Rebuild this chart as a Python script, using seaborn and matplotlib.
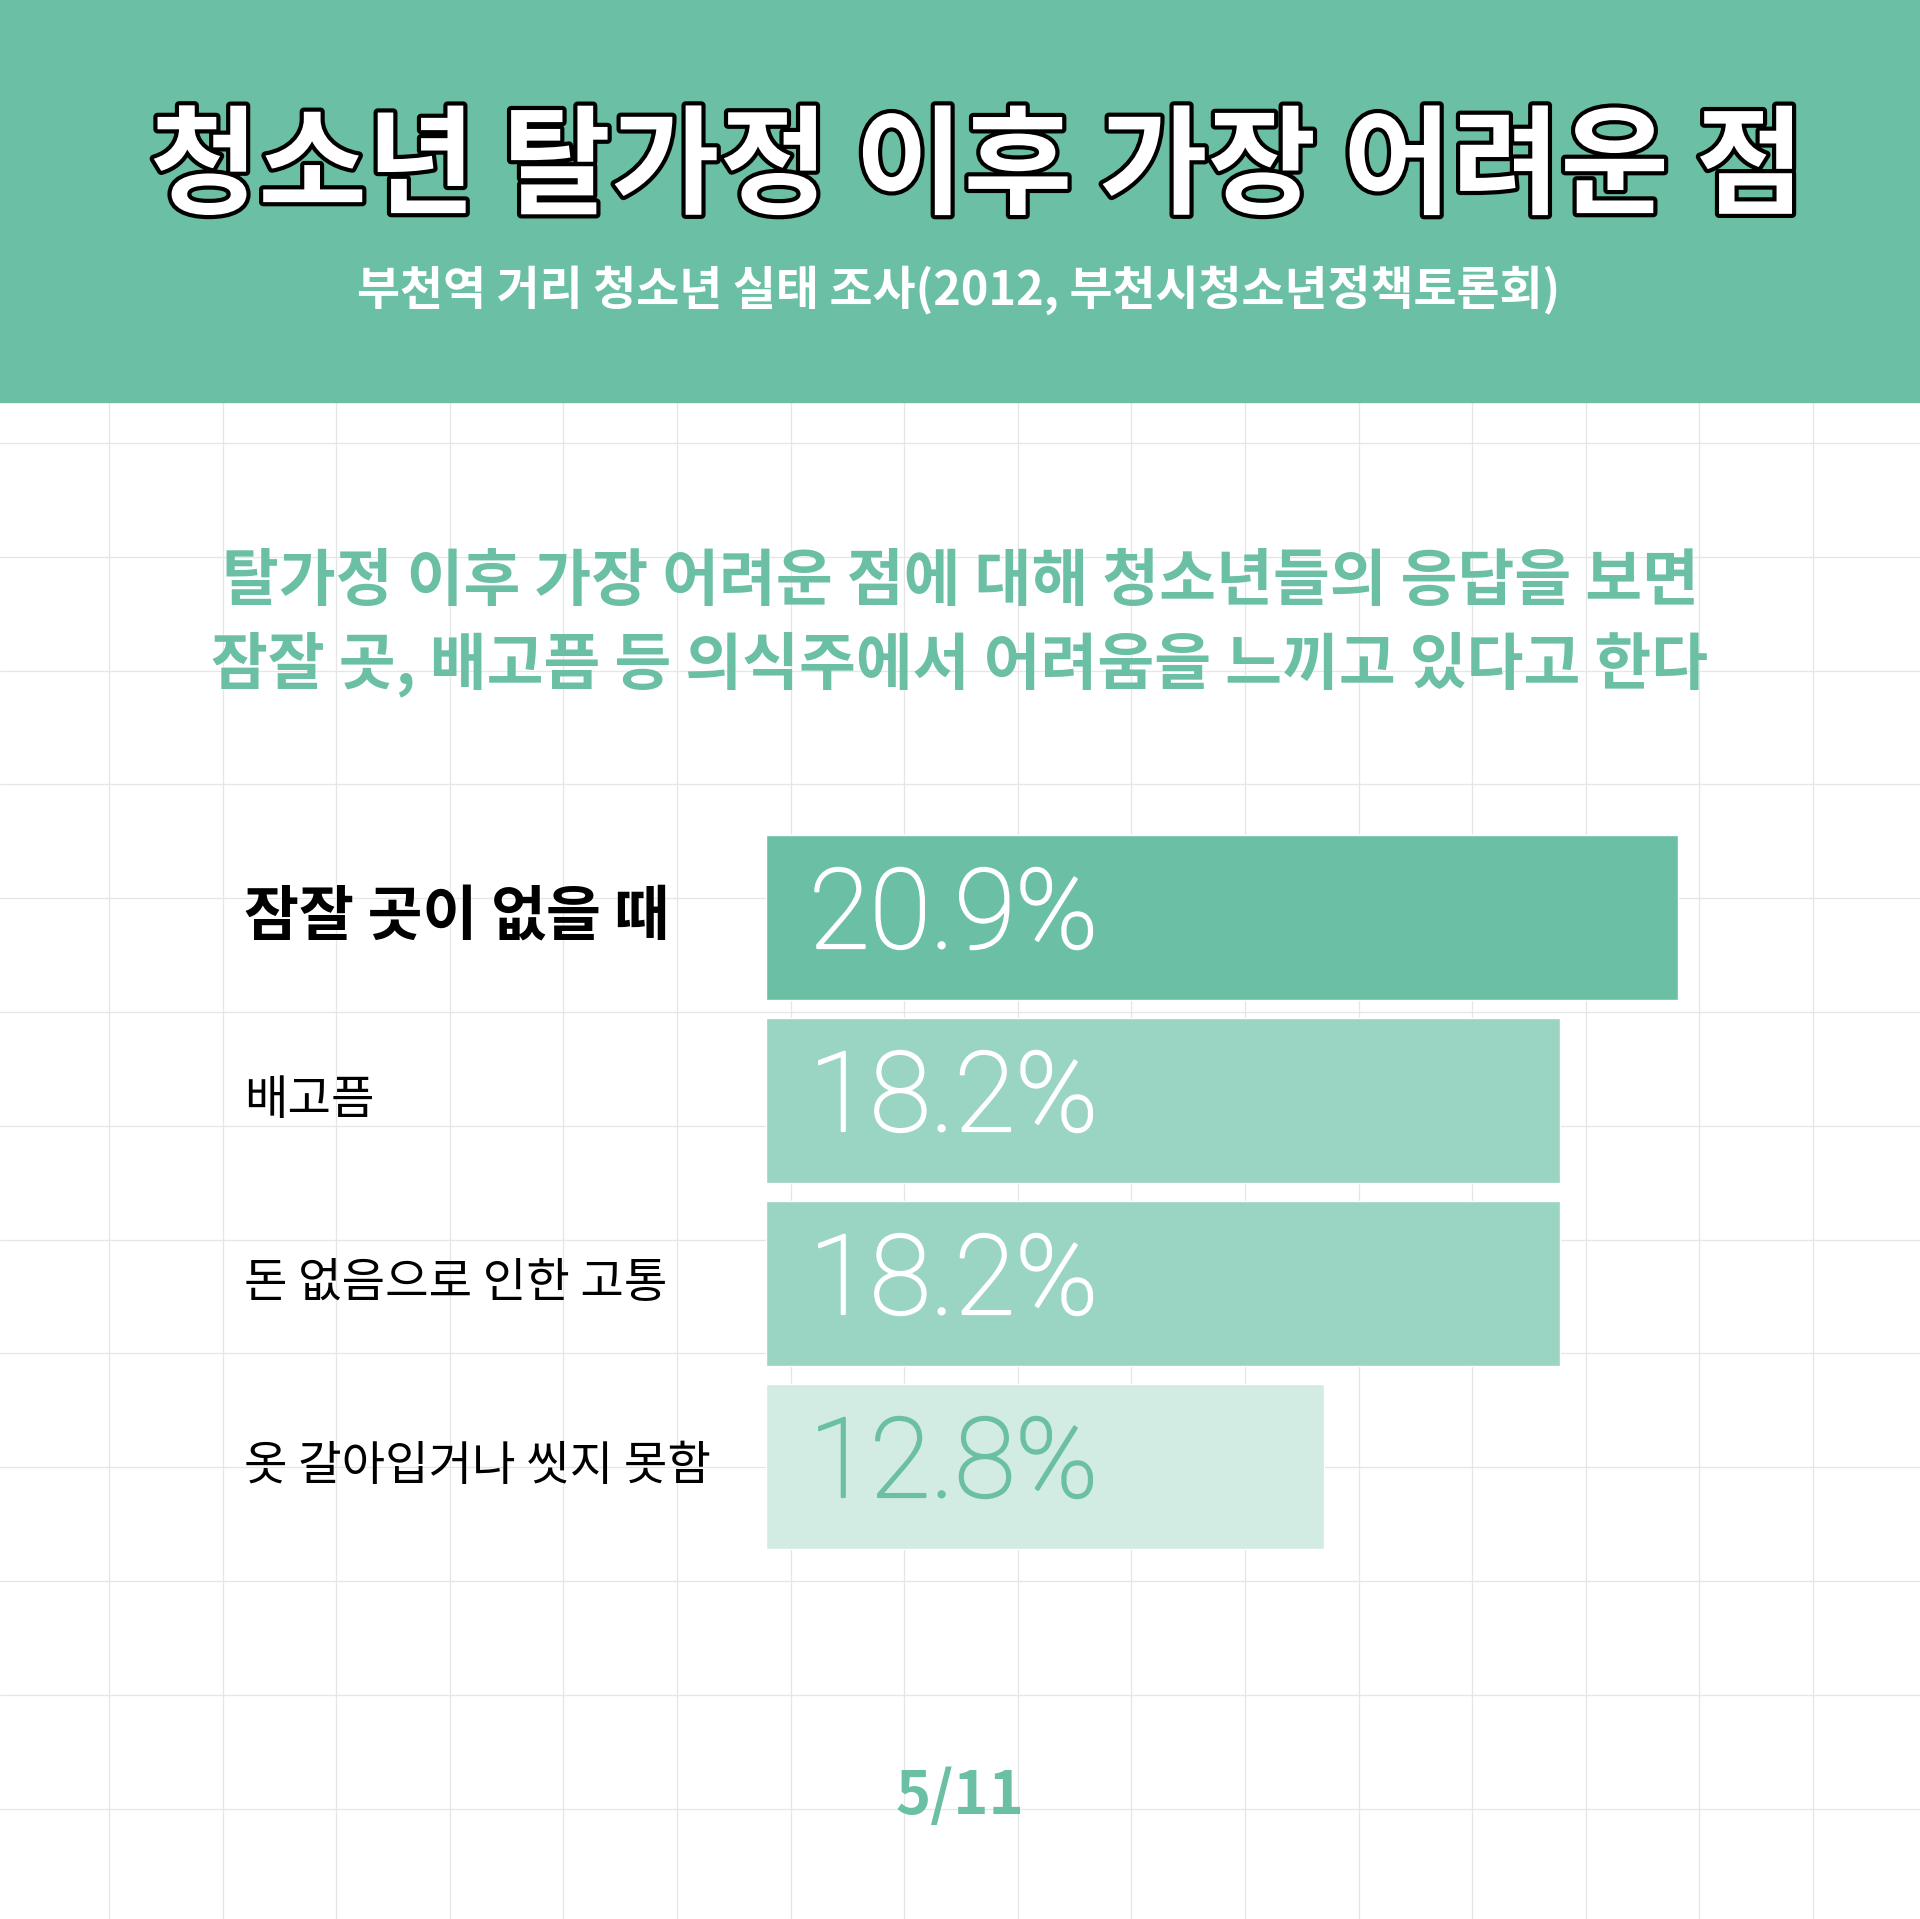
import matplotlib
matplotlib.use("Agg")
import matplotlib.pyplot as plt
import matplotlib.patheffects as pe
import matplotlib.transforms as mtransforms
import seaborn as sns
import numpy as np

# data
categories = ['잠잘 곳이 없을 때', '배고픔', '돈 없음으로 인한 고통', '옷 갈아입거나 씻지 못함']
values = [20.9, 18.2, 18.2, 12.8]
value_labels = ['20.9%', '18.2%', '18.2%', '12.8%']
bar_colors = ['#6BBFA5', '#9AD4C2', '#9AD4C2', '#D3ECE3']
text_colors = ['white', 'white', 'white', '#6BBFA5']

title = '청소년 탈가정 이후 가장 어려운 점'
subtitle = '부천역 거리 청소년 실태 조사(2012, 부천시청소년정책토론회)'
intro = ['탈가정 이후 가장 어려운 점에 대해 청소년들의 응답을 보면',
         '잠잘 곳, 배고픔 등 의식주에서 어려움을 느끼고 있다고 한다']
page = '5/11'

GREEN = '#6BBFA5'
W, H = 1920, 1919

sns.set_theme(style='white')
plt.rcParams['font.family'] = ['Noto Sans CJK KR', 'DejaVu Sans']

fig = plt.figure(figsize=(W / 100, H / 100), dpi=100)
fig.patch.set_facecolor('white')

# background: grid + header, in pixel coordinates
bg = fig.add_axes([0, 0, 1, 1])
bg.set_xlim(0, W)
bg.set_ylim(H, 0)
bg.axis('off')
for gx in np.arange(109, W, 113.6):
    bg.axvline(gx, color='#E6E6E6', lw=0.9, zorder=0)
for gy in np.arange(443, H, 113.8):
    bg.axhline(gy, color='#E6E6E6', lw=0.9, zorder=0)
bg.axhspan(0, 402, color=GREEN, zorder=1)

bg.text(977, 170, title, ha='center', va='center', fontsize=85, fontweight='bold',
        color='white', zorder=3,
        path_effects=[pe.withStroke(linewidth=6, foreground='black')])
bg.text(959, 290, subtitle, ha='center', va='center', fontsize=33.7, fontweight='bold',
        color='white', zorder=3)
bg.text(960, 581, intro[0], ha='center', va='center', fontsize=44.5, fontweight='bold',
        color=GREEN, zorder=3)
bg.text(960, 664, intro[1], ha='center', va='center', fontsize=44.5, fontweight='bold',
        color=GREEN, zorder=3)
bg.text(960, 1797, page, ha='center', va='center', fontsize=43, fontweight='bold',
        color=GREEN, zorder=3)

# bar chart
x0, px_per = 765.6, 43.65
top, bottom = 826, 1558
ax = fig.add_axes([x0 / W, 1 - bottom / H, 1 - x0 / W, (bottom - top) / H])
ax.patch.set_alpha(0)
sns.barplot(x=values, y=categories, hue=categories, palette=bar_colors, legend=False,
            orient='h', width=0.9, saturation=1, ax=ax)
ax.set_xlim(0, (W - x0) / px_per)
ax.set_ylim(3.5, -0.5)
ax.axis('off')

lab_tr = mtransforms.blended_transform_factory(fig.transFigure, ax.transData)
for i, (cat, lab) in enumerate(zip(categories, value_labels)):
    big = i == 0
    ax.text(244 / W, i, cat, transform=lab_tr, ha='left', va='center',
            fontsize=43 if big else 34, fontweight='bold' if big else 'normal',
            color='black')
    ax.text((809 - x0) / px_per, i, lab, ha='left', va='center', fontsize=80,
            family='Roboto', fontweight='light', color=text_colors[i],
            path_effects=[pe.withStroke(linewidth=1.6, foreground=text_colors[i])])

fig.savefig('out.png', dpi=100, facecolor='white')
